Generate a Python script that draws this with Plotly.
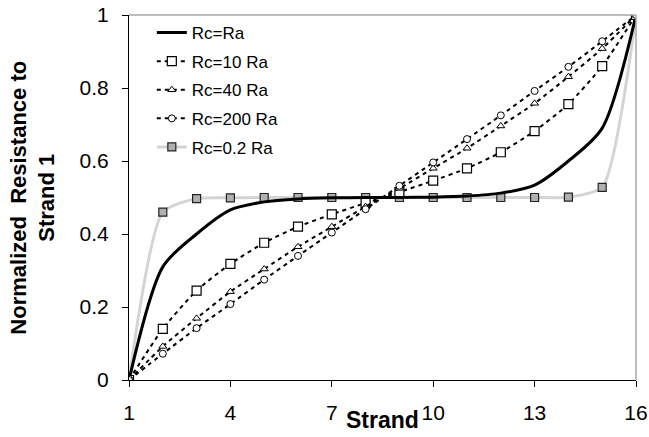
import plotly.graph_objects as go

strands = list(range(1, 17))
rc_ra = [0, 0.31, 0.40, 0.466, 0.488, 0.496, 0.499, 0.5, 0.5, 0.501, 0.504, 0.512, 0.534, 0.60, 0.69, 1.0]
rc_10 = [0, 0.14, 0.245, 0.318, 0.376, 0.42, 0.454, 0.485, 0.515, 0.546, 0.58, 0.624, 0.682, 0.756, 0.86, 1.0]
rc_40 = [0, 0.092, 0.169, 0.242, 0.304, 0.365, 0.42, 0.475, 0.525, 0.58, 0.635, 0.696, 0.758, 0.831, 0.908, 1.0]
rc_200 = [0, 0.072, 0.142, 0.208, 0.275, 0.34, 0.404, 0.468, 0.532, 0.596, 0.66, 0.725, 0.792, 0.858, 0.928, 1.0]
rc_02 = [0, 0.46, 0.497, 0.499, 0.5, 0.5, 0.5, 0.5, 0.5, 0.5, 0.5, 0.5, 0.5, 0.501, 0.528, 1.0]
x_ticks = [1, 4, 7, 10, 13, 16]
y_ticks = [0, 0.2, 0.4, 0.6, 0.8, 1]

fig = go.Figure()

dash_line = dict(color="black", width=2, dash="4px,4px", shape="spline", smoothing=0.6)

fig.add_trace(go.Scatter(
    x=strands, y=rc_02, name="Rc=0.2 Ra", legendrank=5, legendgroup="e",
    mode="lines+markers", line=dict(color="#d4d4d4", width=3, shape="spline", smoothing=0.6),
    marker=dict(symbol="square", size=8, color="#b0b0b0", line=dict(color="#222", width=1.2)),
))
fig.add_trace(go.Scatter(
    x=strands, y=rc_ra, name="Rc=Ra", legendrank=1, legendgroup="a",
    mode="lines", line=dict(color="black", width=3, shape="spline", smoothing=0.8),
))
fig.add_trace(go.Scatter(
    x=strands, y=rc_10, name="Rc=10 Ra", legendrank=2, legendgroup="b",
    mode="lines+markers", line=dash_line,
    marker=dict(symbol="square", size=9, color="white", line=dict(color="black", width=1.2)),
))
fig.add_trace(go.Scatter(
    x=strands, y=rc_40, name="Rc=40 Ra", legendrank=3, legendgroup="c",
    mode="lines+markers", line=dash_line,
    marker=dict(symbol="triangle-up", size=7, color="white", line=dict(color="black", width=1)),
))
fig.add_trace(go.Scatter(
    x=strands, y=rc_200, name="Rc=200 Ra", legendrank=4, legendgroup="d",
    mode="lines+markers", line=dash_line,
    marker=dict(symbol="circle", size=7, color="white", line=dict(color="black", width=1)),
))

fig.update_layout(
    width=649, height=437,
    margin=dict(l=129, r=13, t=15, b=57),
    paper_bgcolor="white", plot_bgcolor="white",
    font=dict(family="Liberation Sans, Arial", color="black"),
    showlegend=True,
    legend=dict(x=0.045, y=1.0, xanchor="left", yanchor="top", tracegroupgap=3.5,
                bgcolor="rgba(0,0,0,0)", font=dict(size=17), itemwidth=30),
    shapes=[
        dict(type="line", xref="paper", yref="paper", x0=0, x1=1, y0=1, y1=1,
             line=dict(color="#a6a6a6", width=1.5)),
        dict(type="line", xref="paper", yref="paper", x0=1, x1=1, y0=0, y1=1,
             line=dict(color="#a6a6a6", width=1.5)),
    ],
    annotations=[
        dict(text="<b>Normalized  Resistance to<br>Strand 1</b>", xref="paper", yref="paper",
             x=-0.191, y=0.5, xanchor="center", yanchor="middle", textangle=-90,
             showarrow=False, font=dict(size=22)),
        dict(text="<b>Strand</b>", xref="paper", yref="paper",
             x=0.5, y=-0.11, xanchor="center", yanchor="middle",
             showarrow=False, font=dict(size=23)),
    ],
)
fig.update_xaxes(range=[1, 16], tickvals=x_ticks, ticks="outside", ticklen=6,
                 tickcolor="black", showline=True, linecolor="black", linewidth=1,
                 showgrid=False, zeroline=False, tickfont=dict(size=21),
                 ticklabelstandoff=8, automargin=False, ticklabeloverflow="allow")
fig.update_yaxes(range=[0, 1], tickvals=y_ticks, ticktext=["0", "0.2", "0.4", "0.6", "0.8", "1"],
                 ticks="outside", ticklen=6,
                 tickcolor="black", showline=True, linecolor="black", linewidth=1,
                 showgrid=False, zeroline=False, tickfont=dict(size=21),
                 ticklabelstandoff=9, automargin=False, ticklabeloverflow="allow")

fig.write_html("out.html", config={"displayModeBar": False},
               post_script="document.body.style.margin='0';")
